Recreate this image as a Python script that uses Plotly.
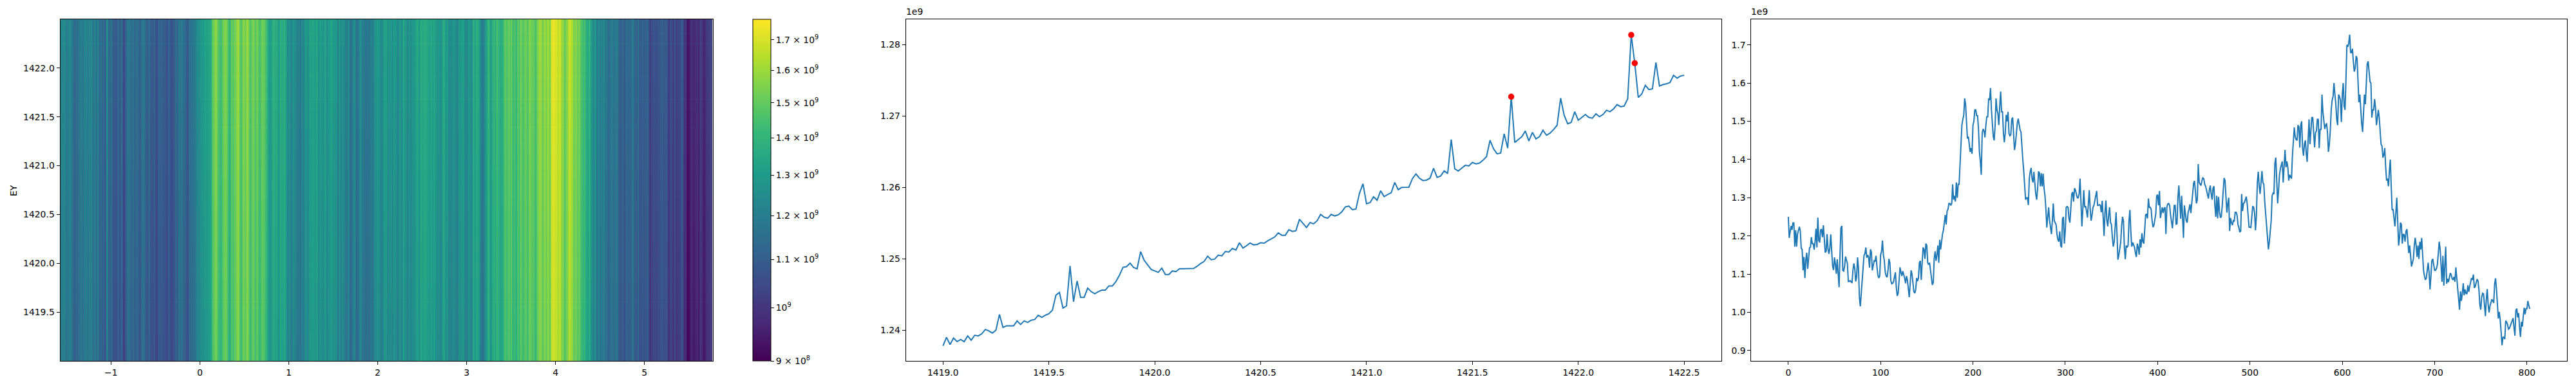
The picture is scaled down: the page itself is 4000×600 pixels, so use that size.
import numpy as np
import plotly.graph_objects as go

# middle panel: value per EY row, in units of 1e6 (211 rows, 1419 to 1422.5)
row_values = [
    1237.8, 1239.0, 1238.0, 1238.9, 1238.4, 1238.7, 1238.4, 1239.2, 1238.6, 1239.3,
    1239.2, 1239.5, 1240.1, 1239.9, 1239.6, 1240.0, 1242.2, 1240.4, 1240.6, 1240.6,
    1240.6, 1241.3, 1240.8, 1241.3, 1241.1, 1241.4, 1241.5, 1242.1, 1241.8, 1242.1,
    1242.3, 1242.8, 1244.9, 1245.3, 1243.1, 1243.4, 1249.0, 1244.0, 1246.9, 1244.6,
    1244.6, 1245.9, 1245.4, 1245.1, 1245.4, 1245.6, 1245.6, 1246.2, 1246.2, 1246.8,
    1247.7, 1248.8, 1248.9, 1249.4, 1248.8, 1248.6, 1251.0, 1249.8, 1249.1, 1248.5,
    1248.3, 1248.1, 1248.7, 1247.8, 1247.8, 1248.3, 1248.2, 1248.6, 1248.6, 1248.6,
    1248.6, 1248.65, 1248.95, 1249.34, 1249.64, 1250.36, 1249.88, 1249.97, 1250.51, 1250.42,
    1251.02, 1250.96, 1251.44, 1251.23, 1252.25, 1251.5, 1251.83, 1252.22, 1251.95, 1252.01,
    1252.25, 1252.19, 1252.52, 1252.76, 1253.06, 1253.63, 1253.3, 1253.3, 1254.08, 1253.84,
    1253.93, 1255.53, 1254.95, 1254.38, 1255.08, 1254.9, 1255.32, 1256.22, 1255.83, 1255.68,
    1256.22, 1256.01, 1256.16, 1256.58, 1257.27, 1257.39, 1256.88, 1256.97, 1259.16, 1260.51,
    1257.72, 1257.87, 1258.68, 1258.2, 1259.52, 1258.71, 1259.01, 1259.25, 1260.69, 1259.67,
    1260.0, 1260.0, 1260.03, 1261.23, 1261.89, 1261.29, 1260.96, 1261.02, 1261.29, 1262.67,
    1261.41, 1261.59, 1262.31, 1261.95, 1266.7, 1262.6, 1262.3, 1262.7, 1263.1, 1263.0,
    1263.5, 1263.3, 1263.4, 1263.8, 1264.3, 1266.6, 1265.4, 1264.7, 1264.8, 1267.5,
    1265.5, 1272.7, 1266.3, 1266.7, 1267.1, 1267.9, 1266.5, 1267.7, 1266.8, 1267.1,
    1268.0, 1267.3, 1267.6, 1268.1, 1268.7, 1272.5, 1270.1, 1268.9, 1269.1, 1270.6,
    1269.4, 1269.8, 1270.2, 1269.8, 1269.7, 1270.3, 1269.9, 1270.2, 1270.8, 1270.6,
    1271.0, 1271.6, 1271.3, 1271.4, 1272.4, 1281.35, 1277.4, 1272.6, 1273.1, 1274.3,
    1273.7, 1273.8, 1277.5, 1274.2, 1274.4, 1274.5, 1274.7, 1275.7, 1275.3, 1275.6,
    1275.7,
]
peak_rows = [161, 195, 196]

# right panel: value per column, in units of 1e6
col_values = [
    1250, 1195, 1211, 1226, 1216, 1234, 1234, 1172, 1215, 1172,
    1205, 1213, 1224, 1213, 1168, 1165, 1110, 1145, 1090, 1138,
    1156, 1114, 1149, 1169, 1171, 1197, 1180, 1180, 1164, 1185,
    1219, 1170, 1248, 1188, 1183, 1216, 1217, 1197, 1228, 1188,
    1157, 1160, 1205, 1166, 1153, 1169, 1204, 1160, 1121, 1111,
    1144, 1126, 1101, 1139, 1098, 1066, 1150, 1222, 1226, 1110,
    1108, 1121, 1146, 1138, 1128, 1081, 1081, 1083, 1079, 1077,
    1110, 1128, 1115, 1081, 1093, 1144, 1115, 1040, 1016, 1050,
    1095, 1126, 1149, 1154, 1170, 1143, 1150, 1145, 1117, 1165,
    1158, 1110, 1120, 1135, 1133, 1148, 1120, 1098, 1090, 1095,
    1150, 1160, 1188, 1150, 1135, 1105, 1095, 1092, 1110, 1140,
    1130, 1084, 1075, 1076, 1080, 1095, 1105, 1065, 1043, 1050,
    1092, 1118, 1105, 1095, 1108, 1100, 1090, 1076, 1095, 1085,
    1065, 1040, 1075, 1110, 1100, 1070, 1055, 1050, 1060, 1090,
    1082, 1090, 1130, 1135, 1085, 1130, 1170, 1165, 1140, 1180,
    1175, 1130, 1125, 1130, 1110, 1090, 1072, 1078, 1140, 1160,
    1135, 1150, 1175, 1130, 1190, 1165, 1190, 1205, 1215, 1240,
    1255, 1230, 1265, 1270, 1285, 1285, 1280, 1285, 1335, 1295,
    1305, 1290, 1340, 1300, 1335, 1335, 1390, 1440, 1490, 1505,
    1515, 1560, 1545, 1500, 1455, 1460, 1435, 1420, 1430, 1415,
    1490, 1500, 1530, 1530, 1515, 1515, 1480, 1420, 1395, 1360,
    1470, 1480, 1475, 1458, 1490, 1512, 1512, 1560, 1555, 1587,
    1530, 1490, 1460, 1450, 1490, 1560, 1530, 1520, 1490, 1540,
    1578, 1525, 1525, 1470, 1445, 1470, 1517, 1500, 1525, 1468,
    1462, 1465, 1505, 1510, 1460, 1425, 1440, 1470, 1495, 1507,
    1490, 1478, 1472, 1430, 1400, 1370, 1340, 1295, 1300, 1300,
    1281, 1350, 1368, 1378, 1350, 1340, 1368, 1335, 1310, 1295,
    1323, 1369, 1365, 1330, 1364, 1330, 1363, 1325, 1305, 1270,
    1222, 1250, 1275, 1240, 1220, 1205, 1240, 1285, 1240, 1235,
    1230, 1205, 1190, 1185, 1212, 1175, 1170, 1245, 1250, 1180,
    1215, 1275, 1277, 1275, 1245, 1235, 1270, 1310, 1315, 1290,
    1325, 1320, 1310, 1300, 1300, 1310, 1350, 1290, 1225, 1270,
    1320, 1275, 1278, 1265, 1248, 1285, 1320, 1270, 1240, 1255,
    1275, 1280, 1295, 1305, 1318, 1280, 1280, 1282, 1280, 1262,
    1292, 1250, 1200, 1262, 1293, 1240, 1225, 1255, 1275, 1235,
    1230, 1195, 1172, 1185, 1225, 1262, 1205, 1138, 1150, 1169,
    1183, 1225, 1250, 1239, 1170, 1139, 1175, 1170, 1175, 1240,
    1268, 1210, 1172, 1183, 1175, 1170, 1155, 1145, 1180, 1170,
    1151, 1191, 1170, 1207, 1185, 1180, 1215, 1255, 1258, 1246,
    1298, 1275, 1275, 1270, 1240, 1223, 1228, 1245, 1258, 1305,
    1308, 1280, 1318, 1247, 1265, 1275, 1260, 1272, 1275, 1205,
    1275, 1284, 1285, 1280, 1255, 1232, 1220, 1250, 1280, 1280,
    1231, 1232, 1300, 1332, 1280, 1245, 1305, 1240, 1195, 1280,
    1262, 1240, 1235, 1261, 1270, 1283, 1260, 1285, 1310, 1338,
    1344, 1315, 1285, 1295, 1388, 1340, 1336, 1332, 1345, 1352,
    1350, 1335, 1330, 1320, 1305, 1298, 1320, 1332, 1310, 1295,
    1325, 1330, 1280, 1250, 1305, 1246, 1302, 1265, 1248, 1250,
    1280, 1325, 1352, 1345, 1290, 1261, 1285, 1300, 1213, 1247,
    1235, 1228, 1240, 1238, 1262, 1262, 1255, 1230, 1222, 1210,
    1213, 1310, 1265, 1285, 1287, 1295, 1303, 1285, 1250, 1223,
    1223, 1222, 1250, 1278, 1275, 1260, 1215, 1255, 1340, 1368,
    1330, 1310, 1340, 1370, 1340, 1335, 1290, 1255, 1230, 1185,
    1165, 1185, 1210, 1240, 1305, 1312, 1310, 1390, 1405, 1340,
    1285, 1320, 1360, 1377, 1385, 1395, 1340, 1390, 1425, 1380,
    1395, 1380, 1345, 1360, 1355, 1350, 1410, 1460, 1484, 1460,
    1452, 1450, 1490, 1485, 1431, 1490, 1500, 1430, 1410, 1440,
    1450, 1415, 1394, 1450, 1505, 1440, 1470, 1510, 1510, 1470,
    1432, 1470, 1475, 1505, 1505, 1430, 1480, 1478, 1570, 1525,
    1500, 1480, 1490, 1495, 1470, 1420, 1440, 1475, 1530, 1555,
    1565, 1600, 1570, 1545, 1505, 1490, 1570, 1565, 1555, 1498,
    1570, 1600, 1540, 1530, 1610, 1700, 1695, 1705, 1727, 1680,
    1680, 1690, 1655, 1630, 1640, 1671, 1665, 1600, 1550, 1570,
    1530, 1495, 1472, 1530, 1570, 1545, 1600, 1650, 1657, 1630,
    1604, 1600, 1510, 1530, 1530, 1558, 1535, 1490, 1510, 1530,
    1510, 1470, 1440, 1435, 1405, 1412, 1430, 1380, 1345, 1350,
    1330, 1370, 1400, 1330, 1268, 1270, 1240, 1225, 1260, 1300,
    1240, 1175, 1195, 1235, 1230, 1180, 1205, 1203, 1185, 1212,
    1218, 1185, 1155, 1175, 1150, 1120, 1130, 1140, 1175, 1195,
    1175, 1145, 1175, 1140, 1185, 1165, 1195, 1150, 1110, 1095,
    1085, 1090, 1110, 1130, 1105, 1060, 1095, 1135, 1140, 1125,
    1110, 1110, 1115, 1125, 1165, 1185, 1165, 1120, 1080, 1148,
    1070, 1120, 1172, 1075, 1088, 1079, 1090, 1103, 1098, 1088,
    1085, 1093, 1080, 1118, 1090, 1059, 1030, 1007, 1055, 1030,
    1050, 1076, 1045, 1060, 1050, 1048, 1071, 1054, 1068, 1080,
    1090, 1085, 1099, 1064, 1068, 1078, 1087, 1082, 1060, 1020,
    1007, 1040, 1050, 1048, 1020, 990, 1035, 1061, 1020, 1000,
    1017, 1025, 1034, 1030, 1025, 1075, 1089, 1060, 1020, 984,
    1001, 981, 950, 914, 935, 935, 930, 978, 975, 968,
    956, 958, 965, 971, 980, 985, 960, 939, 1005, 1010,
    987, 998, 960, 936, 975, 963, 990, 1012, 995, 1010,
    1010, 1030, 1018, 1009,
]

# colorbar ticks
cbar_ticks = [9e8, 1e9, 1.1e9, 1.2e9, 1.3e9, 1.4e9, 1.5e9, 1.6e9, 1.7e9]
cbar_labels = [
    "9 × 10<sup>8</sup>", "10<sup>9</sup>", "1.1 × 10<sup>9</sup>", "1.2 × 10<sup>9</sup>",
    "1.3 × 10<sup>9</sup>", "1.4 × 10<sup>9</sup>", "1.5 × 10<sup>9</sup>",
    "1.6 × 10<sup>9</sup>", "1.7 × 10<sup>9</sup>",
]
heat_y_ticks = [1419.5, 1420.0, 1420.5, 1421.0, 1421.5, 1422.0]
mid_ticks = [1240, 1250, 1260, 1270, 1280]
mid_labels = ["1.24", "1.25", "1.26", "1.27", "1.28"]
right_ticks = [900, 1000, 1100, 1200, 1300, 1400, 1500, 1600, 1700]
right_labels = ["0.9", "1.0", "1.1", "1.2", "1.3", "1.4", "1.5", "1.6", "1.7"]

W, H = 4000, 600
TOP, BOTTOM = 30, 561
FONT = dict(family="DejaVu Sans", size=13.9, color="black")

rows = np.array(row_values) * 1e6
cols = np.array(col_values) * 1e6
ey = np.linspace(1419, 1422.5, len(rows))
index = np.arange(len(cols))

# image is the column profile scaled by the row profile, shown on a log colour scale
image = np.outer(rows / rows.mean(), cols)
x_left, x_right = -1.571, 5.766
dx = (x_right - x_left) / len(cols)
dy = 3.5 / len(rows)


def xdom(a, b):
    return [a / W, b / W]


ydom = [(H - BOTTOM) / H, (H - TOP) / H]
axis = dict(showline=True, mirror=True, linecolor="black", linewidth=1, ticks="outside",
            ticklen=5, tickwidth=1, tickcolor="black", showgrid=False, zeroline=False,
            tickfont=FONT)

fig = go.Figure()
fig.add_trace(go.Heatmap(
    z=np.log10(image), x0=x_left + dx / 2, dx=dx, y0=1419 + dy / 2, dy=dy,
    colorscale="Viridis", zmin=np.log10(9e8), zmax=np.log10(1.77e9), hoverinfo="skip",
    colorbar=dict(
        tickvals=np.log10(cbar_ticks).tolist(), ticktext=cbar_labels,
        x=1169 / W, xanchor="left", xpad=0, thickness=28, thicknessmode="pixels",
        y=ydom[0], yanchor="bottom", ypad=0, len=ydom[1] - ydom[0], lenmode="fraction",
        outlinecolor="black", outlinewidth=1, ticks="outside", ticklen=5, tickwidth=1,
        tickcolor="black", tickfont=FONT,
    ),
    xaxis="x", yaxis="y",
))
fig.add_trace(go.Scatter(x=ey, y=rows, mode="lines", line=dict(color="#1f77b4", width=2),
                         xaxis="x2", yaxis="y2", showlegend=False))
fig.add_trace(go.Scatter(x=ey[peak_rows], y=rows[peak_rows], mode="markers",
                         marker=dict(color="red", size=9.5), xaxis="x2", yaxis="y2",
                         showlegend=False))
fig.add_trace(go.Scatter(x=index, y=cols, mode="lines", line=dict(color="#1f77b4", width=2),
                         xaxis="x3", yaxis="y3", showlegend=False))

fig.update_layout(
    width=W, height=H, margin=dict(l=0, r=0, t=0, b=0, autoexpand=False), autosize=False,
    paper_bgcolor="white", plot_bgcolor="white", font=FONT, showlegend=False,
    xaxis=dict(axis, domain=xdom(93.5, 1106.5), range=[x_left, x_right], tickvals=list(range(-1, 6)),
               anchor="y"),
    yaxis=dict(axis, domain=ydom, range=[1419, 1422.5], tickvals=heat_y_ticks,
               tickformat=".1f", anchor="x"),
    xaxis2=dict(axis, domain=xdom(1406.7, 2672.7), range=[1418.825, 1422.675], dtick=0.5,
                tick0=1419, tickformat=".1f", anchor="y2"),
    yaxis2=dict(axis, domain=ydom, range=[1235.7e6, 1283.54e6],
                tickvals=[v * 1e6 for v in mid_ticks], ticktext=mid_labels, anchor="x2"),
    xaxis3=dict(axis, domain=xdom(2719.3, 3985.7), range=[-40.15, 843.15],
                tickvals=list(range(0, 801, 100)), anchor="y3"),
    yaxis3=dict(axis, domain=ydom, range=[873e6, 1767e6],
                tickvals=[v * 1e6 for v in right_ticks], ticktext=right_labels, anchor="x3"),
    annotations=[
        dict(text="EY", x=21 / W, y=(H - 296) / H, xref="paper", yref="paper", textangle=-90,
             xanchor="center", yanchor="middle", showarrow=False, font=FONT),
        dict(text="1e9", x=1406.7 / W, y=(H - 18) / H, xref="paper", yref="paper",
             xanchor="left", yanchor="middle", xshift=-2, showarrow=False, font=FONT),
        dict(text="1e9", x=2719.3 / W, y=(H - 18) / H, xref="paper", yref="paper",
             xanchor="left", yanchor="middle", xshift=-2, showarrow=False, font=FONT),
    ],
)

fig.write_html("out.html", post_script="document.body.style.margin='0';",
               config={"displayModeBar": False})
